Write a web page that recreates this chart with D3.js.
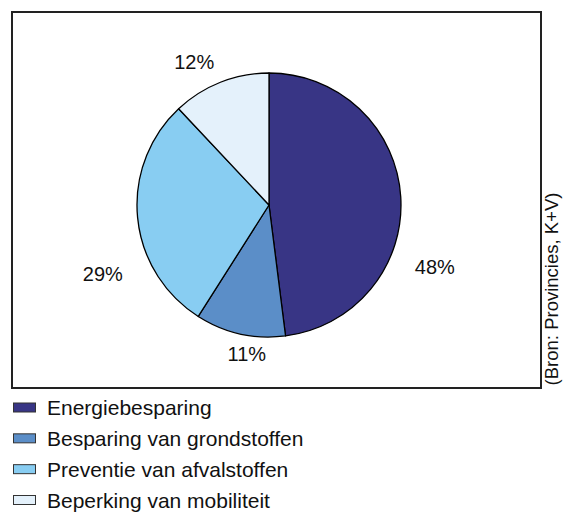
<!DOCTYPE html>
<html><head><meta charset="utf-8">
<script src="https://cdn.jsdelivr.net/npm/d3@7"></script>
<style>body{margin:0;background:#fff}svg{display:block}text{font-family:"Liberation Sans",Arial,sans-serif;fill:#111}</style>
</head><body>
<script>
const categories = ["Energiebesparing","Besparing van grondstoffen","Preventie van afvalstoffen","Beperking van mobiliteit"];
const values = [48, 11, 29, 12];
const labels = ["48%","11%","29%","12%"];
const colors = ["#383585","#5b8ec8","#88cdf2","#e4f1fb"];
const source = "(Bron: Provincies, K+V)";
// label placement (angle in degrees clockwise from top, distance from centre)
const labelAngle = [110.5, 188.5, 247.4, 332.5];
const labelDist = [177, 150, 180, 162];

const W = 567, H = 513;
const svg = d3.select("body").append("svg").attr("width", W).attr("height", H);

svg.append("rect").attr("x", 12).attr("y", 12).attr("width", 529).attr("height", 376)
  .attr("fill", "none").attr("stroke", "#222").attr("stroke-width", 2);

const cx = 269, cy = 205, r = 132;
const pie = d3.pie().sort(null).value(d => d);
const arc = d3.arc().innerRadius(0).outerRadius(r);
const g = svg.append("g").attr("transform", `translate(${cx},${cy})`);
g.selectAll("path").data(pie(values)).join("path")
  .attr("d", arc).attr("fill", (d, i) => colors[i])
  .attr("stroke", "#000").attr("stroke-width", 1.3).attr("stroke-linejoin", "round");

g.selectAll("text.lbl").data(labels).join("text").attr("class", "lbl")
  .attr("x", (d, i) => labelDist[i] * Math.sin(labelAngle[i] * Math.PI / 180))
  .attr("y", (d, i) => -labelDist[i] * Math.cos(labelAngle[i] * Math.PI / 180))
  .attr("dy", "0.36em").attr("text-anchor", "middle")
  .attr("font-size", 20).text(d => d);

const y = d3.scalePoint().domain(categories).range([407.5, 500]);
const leg = svg.append("g");
const items = leg.selectAll("g").data(categories).join("g")
  .attr("transform", d => `translate(0,${y(d)})`);
items.append("rect").attr("x", 13.5).attr("y", -4.5).attr("width", 22).attr("height", 9)
  .attr("fill", (d, i) => colors[i]).attr("stroke", "#333").attr("stroke-width", 1);
items.append("text").attr("x", 47).attr("y", 0).attr("dy", "0.36em")
  .attr("font-size", 21).text(d => d);

svg.append("text").attr("transform", "translate(558,289) rotate(-90)")
  .attr("text-anchor", "middle").attr("font-size", 18.5).text(source);
</script>
</body></html>
